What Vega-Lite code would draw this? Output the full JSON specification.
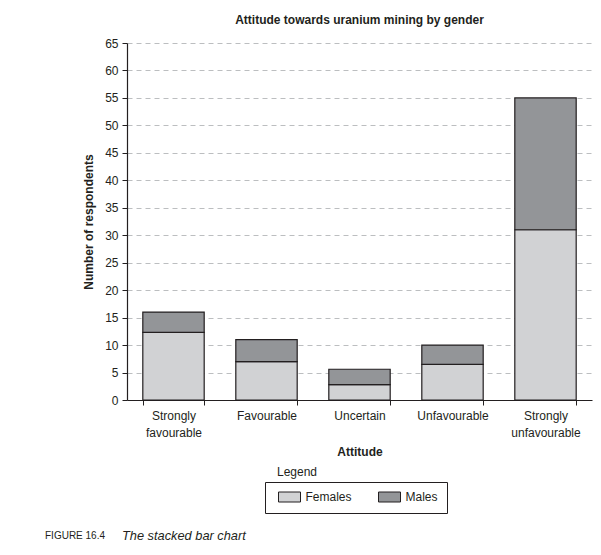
{
  "$schema": "https://vega.github.io/schema/vega-lite/v6.json",
  "width": 465,
  "height": 357,
  "autosize": {"type": "none"},
  "padding": {"left": 127, "top": 43, "right": 9, "bottom": 155},
  "background": "white",
  "config": {
    "font": "Liberation Sans",
    "view": {"stroke": null},
    "legend": {"titleColor": "#231f20", "labelColor": "#231f20", "titleLimit": 400}
  },
  "title": {
    "text": "Attitude towards uranium mining by gender",
    "font": "Liberation Sans",
    "fontSize": 12,
    "fontWeight": "bold",
    "color": "#231f20",
    "anchor": "middle",
    "offset": 10
  },
  "data": {
    "values": [
      {"attitude": "Strongly favourable", "gender": "Females", "count": 12.3},
      {"attitude": "Strongly favourable", "gender": "Males", "count": 3.7},
      {"attitude": "Favourable", "gender": "Females", "count": 7},
      {"attitude": "Favourable", "gender": "Males", "count": 4},
      {"attitude": "Uncertain", "gender": "Females", "count": 2.8},
      {"attitude": "Uncertain", "gender": "Males", "count": 2.8},
      {"attitude": "Unfavourable", "gender": "Females", "count": 6.5},
      {"attitude": "Unfavourable", "gender": "Males", "count": 3.5},
      {"attitude": "Strongly unfavourable", "gender": "Females", "count": 31},
      {"attitude": "Strongly unfavourable", "gender": "Males", "count": 24}
    ]
  },
  "layer": [
    {
      "mark": {"type": "bar", "stroke": "#231f20", "strokeWidth": 1.2},
      "encoding": {
        "x": {
          "field": "attitude",
          "type": "nominal",
          "sort": ["Strongly favourable", "Favourable", "Uncertain", "Unfavourable", "Strongly unfavourable"],
          "scale": {"paddingInner": 0.34, "paddingOuter": 0.17},
          "axis": {
            "title": "Attitude",
            "labelAngle": 0,
            "labelExpr": "split(datum.label, ' ')",
            "labelFontSize": 12,
            "labelColor": "#231f20",
            "labelLineHeight": 17.6,
            "labelPadding": 5,
            "tickBand": "extent",
            "tickSize": 5,
            "tickColor": "#231f20",
            "domainColor": "#231f20",
            "domainWidth": 1.2,
            "titleFontSize": 12,
            "titleFontWeight": "bold",
            "titleColor": "#231f20",
            "titlePadding": 8,
            "grid": false
          }
        },
        "y": {
          "field": "count",
          "type": "quantitative",
          "stack": "zero",
          "scale": {"domain": [0, 65], "nice": false},
          "axis": {
            "title": "Number of respondents",
            "values": [0, 5, 10, 15, 20, 25, 30, 35, 40, 45, 50, 55, 60, 65],
            "labelFontSize": 12,
            "labelColor": "#231f20",
            "labelPadding": 4,
            "tickSize": 5,
            "tickColor": "#231f20",
            "domainColor": "#231f20",
            "domainWidth": 1.2,
            "grid": true,
            "gridColor": "#bcbec0",
            "gridDash": [5, 4],
            "gridWidth": 1,
            "titleFontSize": 12,
            "titleFontWeight": "bold",
            "titleColor": "#231f20",
            "titlePadding": 9
          }
        },
        "order": {"field": "gender", "sort": "ascending"},
        "fill": {
          "field": "gender",
          "type": "nominal",
          "scale": {"domain": ["Females", "Males"], "range": ["#d1d2d4", "#939598"]},
          "legend": {
            "title": null,
            "orient": "none",
            "legendX": 138,
            "legendY": 439,
            "direction": "horizontal",
            "columns": 2,
            "padding": 9,
            "strokeColor": "#231f20",
            "symbolType": "M-2.2,-1H2.2V1H-2.2Z",
            "symbolSize": 100,
            "symbolOffset": 9.5,
            "symbolStrokeColor": "#231f20",
            "symbolStrokeWidth": 1,
            "labelOffset": 10,
            "labelFontSize": 12,
            "labelExpr": "datum.label == 'Males' ? 'Males        ' : datum.label",
            "columnPadding": 22
          }
        }
      }
    },
    {
      "data": {"values": [{"k1": "a", "k2": "b", "k3": "c"}]},
      "mark": {"type": "point", "opacity": 0},
      "encoding": {
        "shape": {
          "field": "k1",
          "type": "nominal",
          "legend": {
            "title": "Legend",
            "titleFontSize": 12,
            "titleFontWeight": "normal",
            "orient": "none",
            "legendX": 150,
            "legendY": 424,
            "padding": 0,
            "symbolOpacity": 0,
            "symbolSize": 1,
            "labelOpacity": 0,
            "labelExpr": "''"
          }
        },
        "strokeDash": {
          "field": "k2",
          "type": "nominal",
          "legend": {
            "title": "FIGURE 16.4",
            "titleFontSize": 10,
            "titleFontWeight": "normal",
            "orient": "none",
            "legendX": -82,
            "legendY": 488,
            "padding": 0,
            "symbolOpacity": 0,
            "symbolSize": 1,
            "labelOpacity": 0,
            "labelExpr": "''"
          }
        },
        "size": {
          "field": "k3",
          "type": "ordinal",
          "legend": {
            "title": "The stacked bar chart",
            "titleFontSize": 12.8,
            "titleFontWeight": "normal",
            "titleFontStyle": "italic",
            "orient": "none",
            "legendX": -5,
            "legendY": 487,
            "padding": 0,
            "symbolOpacity": 0,
            "symbolSize": 1,
            "labelOpacity": 0,
            "labelExpr": "''"
          }
        }
      }
    }
  ]
}
